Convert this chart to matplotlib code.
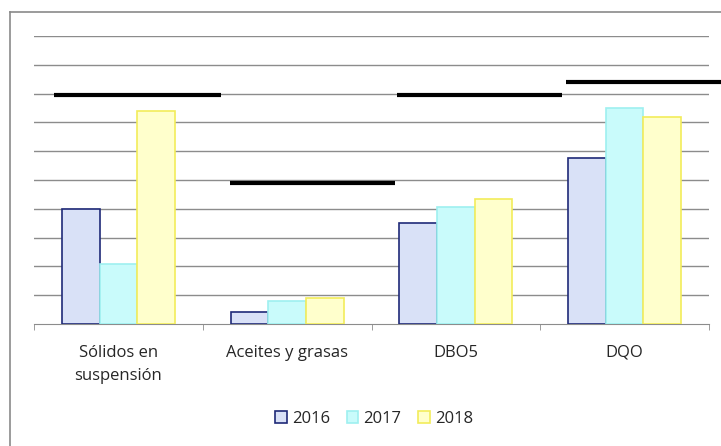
import numpy as np
import matplotlib.pyplot as plt
from matplotlib.lines import Line2D

categorias = ['Sólidos en\nsuspensión', 'Aceites y grasas', 'DBO5', 'DQO']
anios = ['2016', '2017', '2018']
valores_2016 = [40, 4, 35, 57.5]
valores_2017 = [21, 8, 40.5, 75]
valores_2018 = [74, 9, 43.3, 72]
# limites por parametro (linea negra) y su tramo horizontal
limites = [79.5, 49, 79.5, 84]
limite_x0 = [-0.38, 0.66, 1.65, 2.65]
limite_x1 = [0.61, 1.64, 2.63, 3.58]

rellenos = ['#d9e1f7', '#c9fbfb', '#ffffcc']
bordes = ['#1f2a78', '#9ef0f0', '#f2ec5a']

fig = plt.figure(figsize=(7.21, 4.46), dpi=100)
ax = fig.add_axes([34 / 721, 1 - 324 / 446, (709 - 34) / 721, (324 - 36) / 446])

x = np.arange(len(categorias))
ancho = 0.223
series = [valores_2016, valores_2017, valores_2018]
for i, vals in enumerate(series):
    ax.bar(x + (i - 1) * ancho, vals, ancho, color=rellenos[i],
           edgecolor=bordes[i], linewidth=1.2, label=anios[i], zorder=3)

for y, a, b in zip(limites, limite_x0, limite_x1):
    ax.hlines(y, a, b, colors='black', linewidth=3, zorder=4, clip_on=False)

ax.set_xlim(-0.5, 3.5)
ax.set_ylim(0, 100)
ax.set_yticks(np.arange(10, 101, 10))
ax.yaxis.grid(True, color='#8c8c8c', linewidth=1)
ax.set_axisbelow(True)
ax.tick_params(axis='y', left=False, labelleft=False)
for s in ['top', 'right', 'left']:
    ax.spines[s].set_visible(False)
ax.spines['bottom'].set_color('#8c8c8c')

ax.set_xticks(x)
ax.set_xticklabels(categorias, fontsize=12, linespacing=1.6, family='Open Sans',
                   color='#262626')
ax.set_xticks(np.arange(-0.5, 4, 1), minor=True)
ax.tick_params(axis='x', which='major', length=0, pad=15)
ax.tick_params(axis='x', which='minor', length=4, color='#8c8c8c')

fig.legend(loc='center', bbox_to_anchor=(374 / 721, 1 - 419 / 446), ncol=3,
           frameon=False, handlelength=0.7, handleheight=0.7,
           handletextpad=0.3, columnspacing=1.0,
           prop={'family': 'Open Sans', 'size': 12}, labelcolor='#262626')

# marco del grafico
fig.add_artist(Line2D([10 / 721, 1], [1 - 12 / 446] * 2, color='#8a8a8a', linewidth=1.2))
fig.add_artist(Line2D([10 / 721] * 2, [0, 1 - 12 / 446], color='#8a8a8a', linewidth=1.2))

fig.savefig('out.png', dpi=100)
